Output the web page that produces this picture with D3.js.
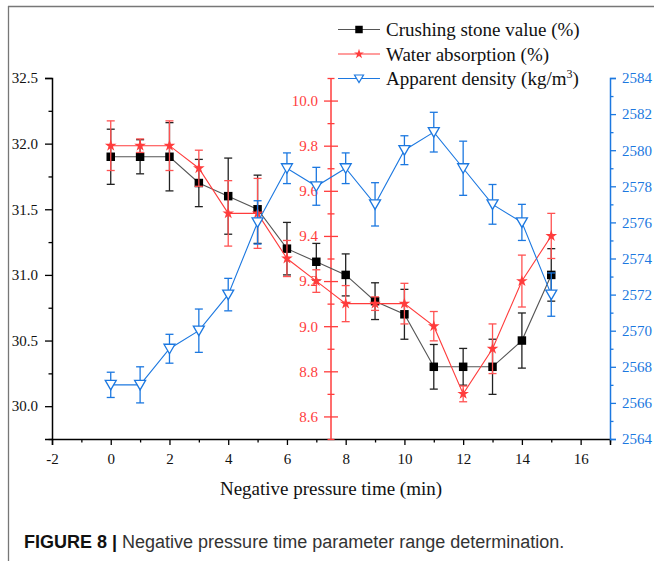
<!DOCTYPE html>
<html>
<head>
<meta charset="utf-8">
<script src="https://cdn.jsdelivr.net/npm/d3@7.9.0/dist/d3.min.js"></script>
<style>
  body { margin: 0; background: #fff; }
  svg text { font-family: "Liberation Serif", "Times New Roman", serif; }
  svg text.caption { font-family: "Liberation Sans", Arial, sans-serif; }
</style>
</head>
<body>
<svg id="chart" width="654" height="561"></svg>
<script>
// data
const times = [0, 1, 2, 3, 4, 5, 6, 7, 8, 9, 10, 11, 12, 13, 14, 15];
const crushing = [31.9, 31.9, 31.9, 31.7, 31.6, 31.5, 31.2, 31.1, 31.0, 30.8, 30.7, 30.3, 30.3, 30.3, 30.5, 31.0];
const crushingErr = [0.21, 0.13, 0.26, 0.18, 0.29, 0.26, 0.2, 0.14, 0.16, 0.14, 0.19, 0.17, 0.14, 0.21, 0.21, 0.2];
const water = [9.8, 9.8, 9.8, 9.7, 9.5, 9.5, 9.3, 9.2, 9.1, 9.1, 9.1, 9.0, 8.7, 8.9, 9.2, 9.4];
const waterErr = [0.11, 0.03, 0.11, 0.08, 0.145, 0.155, 0.08, 0.05, 0.08, 0.03, 0.09, 0.065, 0.035, 0.11, 0.115, 0.1];
const density = [2567, 2567, 2569, 2570, 2572, 2576, 2579, 2578, 2579, 2577, 2580, 2581, 2579, 2577, 2576, 2572];
const densityErr = [0.7, 1.0, 0.8, 1.2, 0.9, 1.2, 0.85, 1.05, 0.85, 1.2, 0.8, 1.1, 1.5, 1.1, 1.0, 1.2];

const xTicks = [-2, 0, 2, 4, 6, 8, 10, 12, 14, 16];
const leftTicks = [30.0, 30.5, 31.0, 31.5, 32.0, 32.5];
const redTicks = [8.6, 8.8, 9.0, 9.2, 9.4, 9.6, 9.8, 10.0];
const blueTicks = [2564, 2566, 2568, 2570, 2572, 2574, 2576, 2578, 2580, 2582, 2584];

const svg = d3.select('#chart');
const plotLeft = 52, plotRight = 610, plotTop = 78, plotBottom = 439;

const x = d3.scaleLinear().domain([-2, 17]).range([plotLeft, plotRight]);
const yL = d3.scaleLinear().domain([29.75, 32.5]).range([plotBottom, plotTop]);
const yR = d3.scaleLinear().domain([8.5, 10.1]).range([plotBottom, plotTop]);
const yB = d3.scaleLinear().domain([2564, 2584]).range([plotBottom, plotTop]);

const RED = '#ff3c3c', BLUE = '#1c78e0';
const SERIF = '"Liberation Serif", "Times New Roman", serif';

// frame lines of the figure panel
svg.append('line').attr('x1', 8.5).attr('x2', 8.5).attr('y1', 6).attr('y2', 561).attr('stroke', '#777').attr('stroke-width', 1.3);
svg.append('line').attr('x1', 8).attr('x2', 654).attr('y1', 6.5).attr('y2', 6.5).attr('stroke', '#777').attr('stroke-width', 1.3);

// bottom axis
let gx = svg.append('g').attr('transform', `translate(0,${plotBottom})`)
  .call(d3.axisBottom(x).tickValues(d3.range(-1, 18, 2)).tickSize(3.5).tickFormat(''));
gx.call(g => g.selectAll('.tick line').attr('stroke-width', 1.3));
gx = svg.append('g').attr('transform', `translate(0,${plotBottom})`)
  .call(d3.axisBottom(x).tickValues(xTicks).tickSize(6).tickPadding(5).tickFormat(d => String(d)));
gx.select('.domain').attr('stroke-width', 1.5);
gx.selectAll('.tick line').attr('stroke-width', 1.3);
gx.attr('font-family', null);
gx.selectAll('text').attr('font-size', 15).attr('fill', '#111').attr('dy', '0.95em').style('font-family', SERIF);

// left axis
let gl = svg.append('g').attr('transform', `translate(${plotLeft},0)`)
  .call(d3.axisLeft(yL).tickValues(d3.range(29.75, 32.6, 0.5)).tickSize(3.5).tickFormat(''));
gl.selectAll('.tick line').attr('stroke-width', 1.3);
gl = svg.append('g').attr('transform', `translate(${plotLeft},0)`)
  .call(d3.axisLeft(yL).tickValues(leftTicks).tickSize(7).tickPadding(7).tickFormat(d3.format('.1f')));
gl.select('.domain').attr('stroke-width', 1.5);
gl.selectAll('.tick line').attr('stroke-width', 1.3);
gl.attr('font-family', null);
gl.selectAll('text').attr('font-size', 15).attr('fill', '#111').style('font-family', SERIF);

// right (density) axis
let gb = svg.append('g').attr('transform', `translate(${plotRight},0)`)
  .call(d3.axisRight(yB).tickValues(d3.range(2565, 2584, 2)).tickSize(3.5).tickFormat(''));
gb.selectAll('.tick line').attr('stroke', BLUE).attr('stroke-width', 1.3);
gb.select('.domain').attr('stroke', BLUE);
gb = svg.append('g').attr('transform', `translate(${plotRight},0)`)
  .call(d3.axisRight(yB).tickValues(blueTicks).tickSize(6).tickPadding(6).tickFormat(d3.format('d')));
gb.select('.domain').attr('stroke', BLUE).attr('stroke-width', 1.5);
gb.selectAll('.tick line').attr('stroke', BLUE).attr('stroke-width', 1.3);
gb.attr('font-family', null);
gb.selectAll('text').attr('font-size', 15).attr('fill', BLUE).style('font-family', SERIF);

// middle (water absorption) axis at x = 7.5, ticks on both sides
const redX = x(7.5);
let gr = svg.append('g').attr('transform', `translate(${redX},0)`)
  .call(d3.axisLeft(yR).tickValues(d3.range(8.5, 10.15, 0.2)).tickSize(3.5).tickFormat(''));
gr.selectAll('.tick line').attr('x2', -3.5).attr('x1', 3.5).attr('stroke', RED).attr('stroke-width', 1.3);
gr.select('.domain').remove();
gr = svg.append('g').attr('transform', `translate(${redX},0)`)
  .call(d3.axisLeft(yR).tickValues(redTicks).tickSize(7).tickPadding(6).tickFormat(d3.format('.1f')));
gr.select('.domain').remove();
gr.selectAll('.tick line').attr('x2', -7).attr('x1', 7).attr('stroke', RED).attr('stroke-width', 1.3);
gr.attr('font-family', null);
gr.selectAll('text').attr('font-size', 15).attr('fill', RED).style('font-family', SERIF);
svg.append('line').attr('x1', redX).attr('x2', redX).attr('y1', plotTop).attr('y2', plotBottom)
  .attr('stroke', RED).attr('stroke-width', 1.5);

// markers
const squarePath = d3.symbol(d3.symbolSquare, 72)();
const starPath = d3.symbol(d3.symbolStar, 42)();
const triPath = 'M-5.5,-4.5L5.5,-4.5L0,5Z';

function drawSeries(vals, errs, y, color, barColor, lineColor, shape, fill) {
  const g = svg.append('g');
  g.append('path')
    .datum(times.map((t, i) => [x(t), y(vals[i])]))
    .attr('d', d3.line())
    .attr('fill', 'none').attr('stroke', lineColor).attr('stroke-width', 1.1);
  times.forEach((t, i) => {
    const cx = x(t), y1 = y(vals[i] + errs[i]), y2 = y(vals[i] - errs[i]);
    g.append('line').attr('x1', cx).attr('x2', cx).attr('y1', y1).attr('y2', y2)
      .attr('stroke', barColor).attr('stroke-width', 1.3);
    [y1, y2].forEach(yy => g.append('line').attr('x1', cx - 4).attr('x2', cx + 4)
      .attr('y1', yy).attr('y2', yy).attr('stroke', barColor).attr('stroke-width', 1.3));
  });
  g.selectAll('.m').data(times).join('path')
    .attr('transform', (t, i) => `translate(${x(t)},${y(vals[i])})`)
    .attr('d', shape)
    .attr('fill', fill)
    .attr('stroke', color)
    .attr('stroke-width', fill === '#fff' ? 1.3 : 0);
}

drawSeries(crushing, crushingErr, yL, '#000', '#222', '#555', squarePath, '#000');
drawSeries(water, waterErr, yR, RED, '#ff5252', RED, starPath, RED);
drawSeries(density, densityErr, yB, BLUE, BLUE, BLUE, triPath, '#fff');

// legend
const legendNames = ['Crushing stone value (%)', 'Water absorption (%)', 'Apparent density (kg/m'];
const legendColors = ['#000', RED, BLUE];
const legendLines = ['#555', RED, BLUE];
const legendShapes = [d3.symbol(d3.symbolSquare, 56)(), d3.symbol(d3.symbolStar, 30)(), 'M-4.5,-3.5L4.5,-3.5L0,4Z'];
legendNames.forEach((name, i) => {
  const ly = 29.5 + i * 24.5;
  svg.append('line').attr('x1', 338).attr('x2', 380).attr('y1', ly).attr('y2', ly)
    .attr('stroke', legendLines[i]).attr('stroke-width', 1.1);
  svg.append('path').attr('transform', `translate(359,${ly})`).attr('d', legendShapes[i])
    .attr('fill', i === 2 ? '#fff' : legendColors[i]).attr('stroke', legendColors[i])
    .attr('stroke-width', i === 2 ? 1.2 : 0);
  const t = svg.append('text').attr('x', 386).attr('y', ly + 6.5).attr('font-size', 19).attr('fill', '#111').text(name);
  if (i === 2) {
    t.append('tspan').attr('font-size', 12).attr('dy', -7.5).text('3');
    t.append('tspan').attr('dy', 7.5).text(')');
  }
});

// axis title
svg.append('text').attr('x', 331).attr('y', 495).attr('text-anchor', 'middle')
  .attr('font-size', 19).attr('fill', '#111').text('Negative pressure time (min)');

// caption
const cap = svg.append('text').attr('class', 'caption').attr('x', 24).attr('y', 548)
  .attr('font-size', 18).attr('fill', '#333');
cap.append('tspan').attr('font-weight', 'bold').attr('fill', '#111').text('FIGURE 8 | ');
cap.append('tspan').text('Negative pressure time parameter range determination.');
</script>
</body>
</html>
